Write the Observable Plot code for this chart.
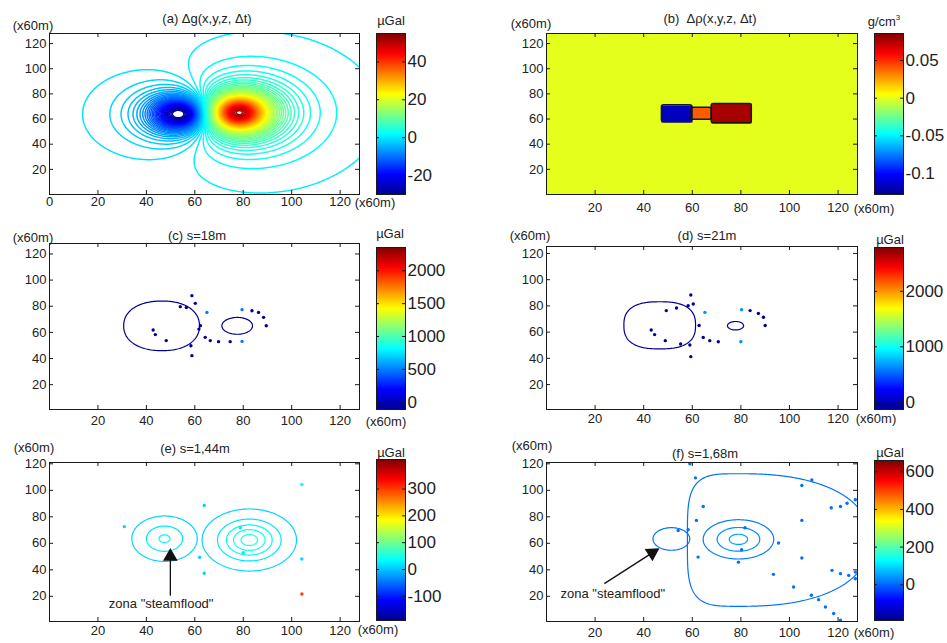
<!DOCTYPE html>
<html><head><meta charset="utf-8">
<script src="https://cdn.jsdelivr.net/npm/d3@7"></script>
<script src="https://cdn.jsdelivr.net/npm/@observablehq/plot@0.6"></script>
<style>
body{margin:0;background:#fff;}
#fig{position:relative;width:947px;height:643px;overflow:hidden;font-family:"Liberation Sans",Arial,sans-serif;color:#222;}
.t{position:absolute;white-space:nowrap;line-height:1;transform:translate(-50%,-50%);font-size:13px;}
#fig svg{position:absolute;overflow:visible;}
</style></head><body><div id="fig"></div><script>
// ---------------- axis ticks ----------------
const xTicksA = [0, 20, 40, 60, 80, 100, 120];
const xTicksRest = [20, 40, 60, 80, 100, 120];
const yTicksAll = [20, 40, 60, 80, 100, 120];

// ---------------- colour bars ----------------
const cbRangeA = [-30, 55],      cbTicksA = [-20, 0, 20, 40];
const cbRangeB = [-0.128, 0.086], cbTicksB = [-0.1, -0.05, 0, 0.05];
const cbRangeC = [-111, 2354],   cbTicksC = [0, 500, 1000, 1500, 2000];
const cbRangeD = [-130, 2790],   cbTicksD = [0, 1000, 2000];
const cbRangeE = [-190, 410],    cbTicksE = [-100, 0, 100, 200, 300];
const cbRangeF = [-190, 660],    cbTicksF = [0, 200, 400, 600];

// ---------------- (a) gravity change: anomaly sources ----------------
const aSrcX = [54, 78];
const aSrcY = [64, 65];
const aSrcAmp = [-38, 56];
const aSrcSx = [12.5, 13.5];
const aSrcSy = [14.5, 16];
const aLevels = d3.range(-29.5, 55, 1);

// ---------------- (b) density change blocks ----------------
const bBlockX1 = [47.5, 59.7, 68];
const bBlockX2 = [60, 68, 84.5];
const bBlockY1 = [57.5, 59.4, 56.7];
const bBlockY2 = [71, 69, 72];
const bBlockRho = [-0.117, 0.04, 0.078];

// ---------------- (c) s=18m ----------------
const cBase = -200;
const cSrcX = [46.5, 77.5];
const cSrcY = [65, 65];
const cSrcAmp = [300, 300];
const cSrcSxL = [14.3, 5.7];
const cSrcSxR = [13.9, 5.7];
const cSrcSy = [17.1, 5.8];
const cSrcP = [2.2, 2];
const cLevels = [-110];
const cDotX = [58.8, 54, 56.5, 60.2, 65, 62.3, 61.7, 42.8, 43.7, 48.2, 64.3, 66.4, 69.8, 74.6, 79.5, 79.5, 83.6, 86.3, 88.4, 89.5, 58.8, 58.4];
const cDotY = [88.1, 79.7, 79, 82.2, 75.3, 65.1, 62.5, 61.8, 58.3, 53.7, 56.2, 53.7, 52.9, 52.9, 53.1, 77.4, 76.6, 75.3, 71.5, 65.1, 42.2, 49.8];
const cDotV = [-100, -100, -100, -100, 500, -100, -100, -100, -100, -100, -100, -100, -100, -100, 500, 500, -100, -100, -100, -100, -100, -100];

// ---------------- (d) s=21m ----------------
const dBase = -200;
const dSrcX = [46.6, 77.8];
const dSrcY = [65.2, 64.9];
const dSrcAmp = [300, 300];
const dSrcSxL = [12.4, 2.8];
const dSrcSxR = [12.4, 2.8];
const dSrcSy = [15.1, 2.7];
const dSrcP = [2.6, 2];
const dLevels = [-120];
const dDotX = [59.4, 49.3, 53.5, 58.3, 60.4, 65.2, 62.8, 43.1, 44.5, 48.9, 55.2, 59, 64.5, 67.2, 70.7, 80.3, 83.8, 87.2, 89.3, 90, 80, 59.4];
const dDotY = [88.3, 76.4, 78.4, 80.2, 81.5, 75.1, 65, 61.6, 58.1, 53.5, 51, 50.2, 56, 53.5, 52.7, 77.1, 76.4, 74.3, 71.3, 65, 52.7, 41.3];
const dDotV = [-120, -120, -120, -120, -120, 650, -120, -120, -120, -120, -120, -120, -120, -120, -120, 650, -120, -120, -120, -120, 650, -120];

// ---------------- (e) s=1,44m ----------------
const eSrcX = [47.5, 82.5];
const eSrcY = [63.5, 62.5];
const eSrcAmp = [31.5, 55];
const eSrcSx = [12.6, 13.4];
const eSrcSy = [16, 16.1];
const eSrcLevels = [[10, 20, 30], [10, 20, 30, 40, 50]];
const eDotX = [30.9, 63.9, 104.2, 104.2, 104.2, 63.9, 62, 78.8, 80];
const eDotY = [72.6, 88.5, 104.4, 48.2, 21.8, 37.4, 49.5, 71.7, 53];
const eDotV = [10, 10, 40, 10, 300, 10, 10, 20, 20];
const eArrowX = [49.9], eArrowY1 = [20.5], eArrowY2 = [50];
const eNoteX = [46.1], eNoteY = [14.3], eNoteText = ['zona "steamflood"'];

// ---------------- (f) s=1,68m ----------------
const fSrcX = [80, 51.4, 79];
const fSrcY = [62.5, 63.3, 63];
const fSrcAmp = [15, 15, 55];
const fSrcSxL = [39.5, 13.6, 14.8];
const fSrcSxR = [95, 13.6, 14.8];
const fSrcSy = [89.8, 15.3, 15.1];
const fSrcPL = [4, 2, 2];
const fSrcPR = [2.3, 2, 2];
const fSrcLevels = [[10], [10], [20, 35, 50]];
const fDotX = [61.3, 64.5, 61.7, 58.3, 62.4, 79, 81.7, 80.3, 95.5, 105.1, 105.1, 105.1, 109.2, 117.2, 121, 123.7, 127.1, 93.4, 101.7, 109, 112, 114.8, 118.2, 121, 117.5, 121, 124.4, 127.1, 127.1, 59, 54.2];
const fDotY = [109.4, 87.8, 77.3, 70.3, 49.6, 45.8, 71.8, 55.2, 60.2, 77.3, 48.9, 103.6, 107.9, 86.8, 87.8, 90.3, 92.9, 36.6, 27, 20.8, 17.5, 12, 7, 1.9, 39.6, 37.1, 35.8, 38.3, 33.3, 120, 69.7];
const fDotV = fDotX.map(() => 10);
const fArrowX1 = [23.8], fArrowY1 = [29.6], fArrowX2 = [43.5], fArrowY2 = [52.8];
const fNoteX = [27.3], fNoteY = [22], fNoteText = ['zona "steamflood"'];

// =====================================================================
const FONT = '"Liberation Sans",Arial,sans-serif';
const fig = document.getElementById("fig");

function jet([lo, hi]) {
  const t = [0, 0.125, 0.375, 0.625, 0.875, 1];
  return {type: "linear", domain: t.map(v => lo + v * (hi - lo)),
    range: ["#00008f", "#0000ff", "#00ffff", "#ffff00", "#ff0000", "#800000"],
    interpolate: "rgb", clamp: true};
}
function makeGroups(X, Y, A, SxL, SxR, Sy, PL, PR) {
  return X.map((x, i) => ({x, y: Y[i], amp: A[i], sxl: SxL[i], sxr: SxR[i], sy: Sy[i],
    pl: PL ? PL[i] : 2, pr: PR ? PR[i] : (PL ? PL[i] : 2)}));
}
function K(g, x, y) {
  const left = x < g.x;
  const u = Math.abs(x - g.x) / (left ? g.sxl : g.sxr);
  const v = Math.abs(y - g.y) / g.sy;
  const p = left ? g.pl : g.pr;
  const r2 = p === 2 ? u * u + v * v : Math.pow(Math.pow(u, p) + Math.pow(v, p), 2 / p);
  return g.amp * Math.pow(1 + r2, -1.5);
}
const SAMPLE = {x1: -20, x2: 150, y1: -20, y2: 150};
function contourMark(fn, levels, sw = 1.2) {
  return Plot.contour({value: fn, ...SAMPLE, thresholds: levels, stroke: "value", fill: "none",
    strokeWidth: sw, pixelSize: 1, clip: true});
}
function dots(X, Y, V) {
  return Plot.dot(X.map((x, i) => ({x, y: Y[i], v: V[i]})), {x: "x", y: "y", fill: "v", r: 1.7, stroke: null, clip: true});
}

function panel(frame, xTicks, yDomain, cRange, marks, padX) {
  const ml = 45, mr = 10, mt = 10, mb = 24;
  const svg = Plot.plot({
    width: frame.w + ml + mr, height: frame.h + mt + mb,
    marginLeft: ml, marginRight: mr, marginTop: mt, marginBottom: mb,
    x: {domain: [0, 128]}, y: {domain: yDomain},
    color: jet(cRange),
    style: {fontFamily: FONT, color: "#222", background: "none", overflow: "visible"},
    marks: [
      ...marks,
      Plot.frame({stroke: "#1a1a1a"}),
      Plot.tickX(xTicks, {x: d => d, insetTop: frame.h - 4, stroke: "#1a1a1a"}),
      Plot.tickX(xTicks, {x: d => d, insetBottom: frame.h - 4, stroke: "#1a1a1a"}),
      Plot.tickY(yTicksAll, {y: d => d, insetLeft: frame.w - 4, stroke: "#1a1a1a"}),
      Plot.tickY(yTicksAll, {y: d => d, insetRight: frame.w - 4, stroke: "#1a1a1a"}),
      Plot.axisX(xTicks, {anchor: "bottom", tickSize: 0, tickPadding: padX, label: null, fontSize: 13, tickFormat: d => String(d)}),
      Plot.axisY(yTicksAll, {anchor: "left", tickSize: 0, tickPadding: 3, label: null, fontSize: 13, tickFormat: d => String(d)})
    ]
  });
  svg.style.left = (frame.x - ml) + "px";
  svg.style.top = (frame.y - mt) + "px";
  fig.appendChild(svg);
}

function colorbar(box, range, ticks) {
  const ml = 2, mr = 50, mt = 2, mb = 2;
  const svg = Plot.plot({
    width: box.w + ml + mr, height: box.h + mt + mb,
    marginLeft: ml, marginRight: mr, marginTop: mt, marginBottom: mb,
    x: {domain: [0, 1], axis: null}, y: {domain: range},
    color: jet(range),
    style: {fontFamily: FONT, color: "#222", background: "none", overflow: "visible"},
    marks: [
      Plot.raster({fill: (x, y) => y, x1: 0, x2: 1, y1: range[0], y2: range[1], pixelSize: 1}),
      Plot.frame({stroke: "#1a1a1a"}),
      Plot.tickY(ticks, {y: d => d, insetLeft: box.w - 3, stroke: "#1a1a1a"}),
      Plot.tickY(ticks, {y: d => d, insetRight: box.w - 3, stroke: "#1a1a1a"}),
      Plot.axisY(ticks, {anchor: "right", tickSize: 0, tickPadding: 2, label: null, fontSize: 17, tickFormat: d => String(d)})
    ]
  });
  svg.style.left = (box.x - ml) + "px";
  svg.style.top = (box.y - mt) + "px";
  fig.appendChild(svg);
}

function text(str, cx, cy, size) {
  const d = document.createElement("div");
  d.className = "t";
  d.style.left = cx + "px"; d.style.top = cy + "px";
  if (size) d.style.fontSize = size + "px";
  d.innerHTML = str;
  fig.appendChild(d);
}

// ---------------- (a) ----------------
const aGroups = makeGroups(aSrcX, aSrcY, aSrcAmp, aSrcSx, aSrcSx, aSrcSy);
const aField = (x, y) => aGroups.reduce((s, g) => s + K(g, x, y), 0);
panel({x: 49, y: 33, w: 310, h: 161}, xTicksA, [0, 128], cbRangeA, [contourMark(aField, aLevels, 1.5)], 2);
colorbar({x: 376, y: 33, w: 29, h: 161}, cbRangeA, cbTicksA);

// ---------------- (b) ----------------
const bBlocks = bBlockX1.map((x1, i) => ({x1, x2: bBlockX2[i], y1: bBlockY1[i], y2: bBlockY2[i], rho: bBlockRho[i]}));
const rhoAt = (x, y) => { for (const b of bBlocks) if (x >= b.x1 && x <= b.x2 && y >= b.y1 && y <= b.y2) return b.rho; return 0; };
panel({x: 546, y: 33, w: 311, h: 161}, xTicksRest, [0, 128], cbRangeB, [
  Plot.raster({fill: rhoAt, x1: 0, x2: 128, y1: 0, y2: 128, pixelSize: 1}),
  Plot.rect(bBlocks, {x1: "x1", x2: "x2", y1: "y1", y2: "y2", fill: "none", stroke: "#151515", strokeWidth: 1.5, rx: 2})
], 8);
colorbar({x: 874, y: 33, w: 29, h: 161}, cbRangeB, cbTicksB);

// ---------------- (c) ----------------
const cGroups = makeGroups(cSrcX, cSrcY, cSrcAmp, cSrcSxL, cSrcSxR, cSrcSy, cSrcP);
const cField = (x, y) => cBase + Math.max(...cGroups.map(g => K(g, x, y)));
panel({x: 49, y: 243, w: 310, h: 166}, xTicksRest, [1, 128], cbRangeC, [contourMark(cField, cLevels), dots(cDotX, cDotY, cDotV)], 6);
colorbar({x: 376, y: 247, w: 29, h: 162}, cbRangeC, cbTicksC);

// ---------------- (d) ----------------
const dGroups = makeGroups(dSrcX, dSrcY, dSrcAmp, dSrcSxL, dSrcSxR, dSrcSy, dSrcP);
const dField = (x, y) => dBase + Math.max(...dGroups.map(g => K(g, x, y)));
panel({x: 546, y: 246, w: 311, h: 163}, xTicksRest, [1, 125.3], cbRangeD, [contourMark(dField, dLevels), dots(dDotX, dDotY, dDotV)], 4);
colorbar({x: 874, y: 247, w: 29, h: 162}, cbRangeD, cbTicksD);

// ---------------- (e) ----------------
const eGroups = makeGroups(eSrcX, eSrcY, eSrcAmp, eSrcSx, eSrcSx, eSrcSy);
panel({x: 49, y: 462, w: 310, h: 159}, xTicksRest, [1, 121], cbRangeE, [
  ...eGroups.map((g, i) => contourMark((x, y) => K(g, x, y), eSrcLevels[i])),
  dots(eDotX, eDotY, eDotV),
  Plot.link({length: 1}, {x1: () => eArrowX[0], x2: () => eArrowX[0], y1: () => eArrowY1[0], y2: () => eArrowY2[0], stroke: "#111", strokeWidth: 1.3}),
  Plot.dot({length: 1}, {x: () => eArrowX[0], y: () => eArrowY2[0], symbol: "triangle", r: 4.5, fill: "#111", stroke: "#111"}),
  Plot.text({length: 1}, {x: () => eNoteX[0], y: () => eNoteY[0], text: () => eNoteText[0], fontSize: 13, fill: "#222"})
], 4);
colorbar({x: 376, y: 459, w: 29, h: 161}, cbRangeE, cbTicksE);

// ---------------- (f) ----------------
const fGroups = makeGroups(fSrcX, fSrcY, fSrcAmp, fSrcSxL, fSrcSxR, fSrcSy, fSrcPL, fSrcPR);
panel({x: 546, y: 462, w: 311, h: 159}, xTicksRest, [1, 121], cbRangeF, [
  ...fGroups.map((g, i) => contourMark((x, y) => K(g, x, y), fSrcLevels[i])),
  dots(fDotX, fDotY, fDotV),
  Plot.link({length: 1}, {x1: () => fArrowX1[0], y1: () => fArrowY1[0], x2: () => fArrowX2[0], y2: () => fArrowY2[0], stroke: "#111", strokeWidth: 1.3}),
  Plot.dot({length: 1}, {x: () => fArrowX2[0], y: () => fArrowY2[0], symbol: "triangle", r: 4.5, rotate: 58, fill: "#111", stroke: "#111"}),
  Plot.text({length: 1}, {x: () => fNoteX[0], y: () => fNoteY[0], text: () => fNoteText[0], fontSize: 13, fill: "#222"})
], 6);
colorbar({x: 874, y: 460, w: 29, h: 160}, cbRangeF, cbTicksF);

// ---------------- texts ----------------
text("(a) Δg(x,y,z, Δt)", 207, 18); text("(x60m)", 33, 25); text("µGal", 391, 20); text("(x60m)", 375, 202);
text("(b)&nbsp; Δρ(x,y,z, Δt)", 710, 18); text("(x60m)", 531, 23); text("g/cm<sup style='font-size:8px'>3</sup>", 884, 21); text("(x60m)", 874, 208);
text("(c) s=18m", 197, 235); text("(x60m)", 33, 237); text("µGal", 390, 233); text("(x60m)", 386, 421);
text("(d) s=21m", 707, 235); text("(x60m)", 530, 235); text("µGal", 890, 239); text("(x60m)", 876, 418);
text("(e) s=1,44m", 195, 448); text("(x60m)", 34, 447); text("µGal", 391, 452); text("(x60m)", 378, 629);
text("(f) s=1,68m", 705, 453); text("(x60m)", 532, 445); text("µGal", 890, 452); text("(x60m)", 874, 632);
</script></body></html>
